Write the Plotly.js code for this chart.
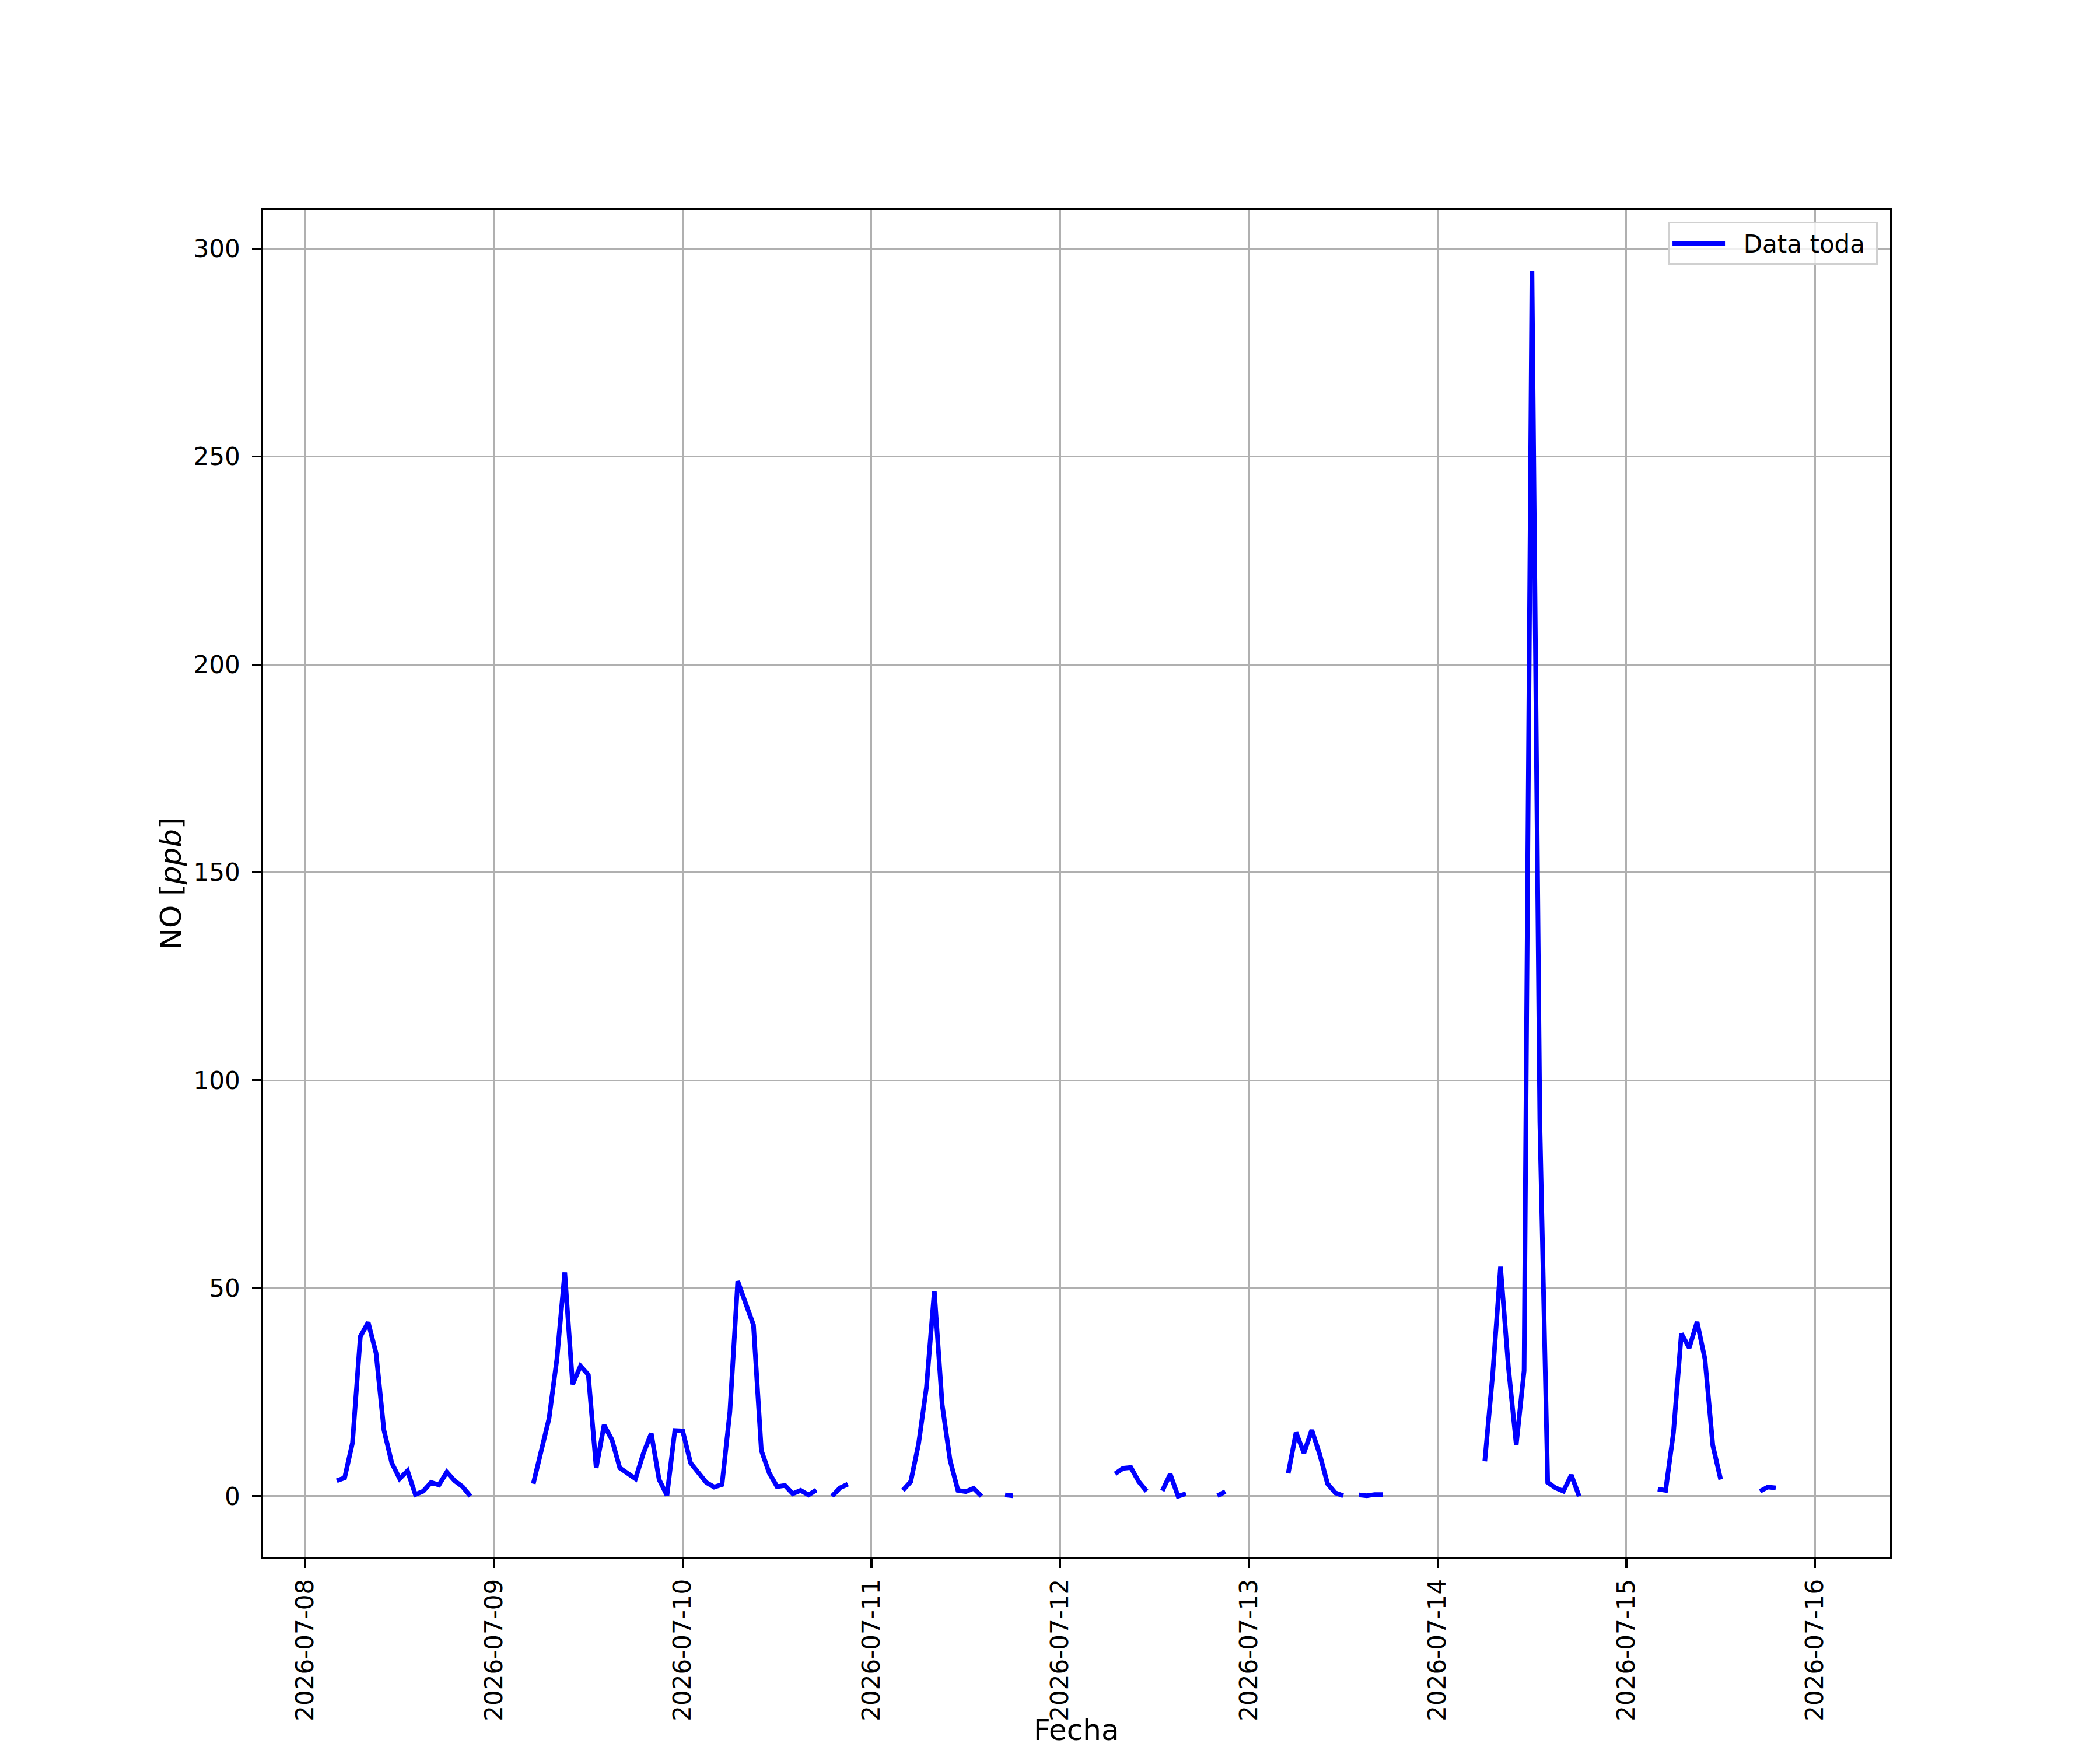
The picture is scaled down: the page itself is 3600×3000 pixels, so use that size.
<!DOCTYPE html>
<html>
<head>
<meta charset="utf-8">
<script src="https://cdn.plot.ly/plotly-3.0.1.min.js"></script>
<style>html,body{margin:0;padding:0;background:#fff;}#chart{width:3600px;height:3000px;}</style>
</head>
<body>
<div id="chart"></div>
<script>
// Hourly NO readings [ppb], first reading at 2026-07-08 04:00; null = missing hour
var firstReading = {year: 2026, month: 7, day: 8, hour: 4};
var noValues = [
  // 07-08 04:00 .. 23:00
  3.7, 4.4, 12.8, 38.4, 41.8, 34.4, 15.9, 8.0, 4.2, 6.1, 0.4, 1.2, 3.3, 2.7, 5.8, 3.7, 2.3, 0.0,
  null, null,
  // 07-09
  null, null, null, null, null, 3.0, 11.2, 18.7, 33.0, 53.8, 26.9, 31.3, 29.2, 6.8, 17.1, 13.6,
  6.8, 5.6, 4.2, 10.3, 15.1, 4.0, 0.2, 15.8,
  // 07-10
  15.7, 8.0, 5.6, 3.3, 2.2, 2.8, 20.3, 51.7, 46.4, 41.2, 11.0, 5.6, 2.3, 2.6, 0.6, 1.4,
  0.3, 1.5, null, 0.0, 2.0, 2.9, null, null,
  // 07-11
  null, null, null, null, 1.4, 3.5, 12.6, 26.2, 49.3, 22.0, 8.7, 1.4, 1.1, 1.9, 0.0, null,
  null, 0.3, 0.1, null, null, null, null, null,
  // 07-12
  null, null, null, null, null, null, null, 5.4, 6.7, 6.9, 3.5, 1.2, null, 1.3, 5.3, 0.0,
  0.6, null, null, null, 0.1, 1.1, null, null,
  // 07-13
  null, null, null, null, null, 5.5, 15.3, 10.4, 15.9, 10.1, 3.0, 0.8, 0.1, null, 0.3, 0.1,
  0.4, 0.4, null, null, null, null, null, null,
  // 07-14
  null, null, null, null, null, null, 8.4, 29.2, 55.2, 31.1, 12.4, 30.2, 294.6, 90.0, 3.3, 2.0,
  1.2, 5.1, 0.0, null, null, null, null, null,
  // 07-15
  null, null, null, null, 1.7, 1.4, 15.4, 39.1, 35.7, 41.9, 33.0, 12.2, 4.0, null, null, null,
  null, 1.2, 2.2, 2.0, null, null, null, null,
  // 07-16
  null
];
var dayTicks = ["2026-07-08","2026-07-09","2026-07-10","2026-07-11","2026-07-12","2026-07-13","2026-07-14","2026-07-15","2026-07-16"];
var yTicks = [0, 50, 100, 150, 200, 250, 300];
var seriesName = "Data toda";
var xLabel = "Fecha";
var yLabel = "NO [<i>ppb</i>]";

function pad(n){ return (n < 10 ? "0" : "") + n; }
var times = noValues.map(function(v, i){
  var d = new Date(Date.UTC(firstReading.year, firstReading.month - 1, firstReading.day, firstReading.hour + i));
  return d.getUTCFullYear() + "-" + pad(d.getUTCMonth() + 1) + "-" + pad(d.getUTCDate()) + " " + pad(d.getUTCHours()) + ":00:00";
});

var font = "DejaVu Sans, Liberation Sans, sans-serif";
var trace = {
  x: times, y: noValues, type: "scatter", mode: "lines",
  name: "\u00a0\u00a0" + seriesName + "\u00a0",
  line: {color: "#0000ff", width: 8}, connectgaps: false, showlegend: true
};
var layout = {
  width: 3600, height: 3000,
  paper_bgcolor: "#ffffff", plot_bgcolor: "#ffffff",
  margin: {l: 450, r: 360, t: 360, b: 330, autoexpand: false},
  font: {family: font, size: 42, color: "#000000"},
  showlegend: true,
  legend: {
    x: 0.9925, y: 0.9913, xanchor: "right", yanchor: "top",
    bgcolor: "rgba(255,255,255,0.8)", bordercolor: "#d0d0d0", borderwidth: 3,
    font: {family: font, size: 42, color: "#000000"},
    itemwidth: 90, tracegroupgap: 0
  },
  annotations: [{
    text: xLabel, xref: "paper", yref: "paper", x: 0.5, y: -0.128,
    xanchor: "center", yanchor: "middle", showarrow: false,
    borderpad: 0, borderwidth: 0,
    font: {family: font, size: 50, color: "#000000"}
  }],
  xaxis: {
    type: "date",
    range: ["2026-07-07 18:33:14", "2026-07-16 09:32:24"],
    tickmode: "array", tickvals: dayTicks, ticktext: dayTicks,
    tickangle: -90,
    showgrid: true, gridcolor: "#b0b0b0", gridwidth: 3,
    zeroline: false,
    showline: true, linecolor: "#000000", linewidth: 3.3, mirror: true,
    ticks: "outside", ticklen: 14.6, tickwidth: 3.3, tickcolor: "#000000",
    ticklabelstandoff: 2,
    tickfont: {family: font, size: 42, color: "#000000"},
    automargin: false
  },
  yaxis: {
    range: [-14.73, 309.3],
    tickmode: "array", tickvals: yTicks, ticktext: yTicks.map(String),
    showgrid: true, gridcolor: "#b0b0b0", gridwidth: 3,
    zeroline: false,
    showline: true, linecolor: "#000000", linewidth: 3.3, mirror: true,
    ticks: "outside", ticklen: 14.6, tickwidth: 3.3, tickcolor: "#000000",
    ticklabelstandoff: 12,
    tickfont: {family: font, size: 42, color: "#000000"},
    title: {text: yLabel, font: {family: font, size: 50, color: "#000000"}, standoff: 6},
    automargin: false
  }
};
Plotly.newPlot("chart", [trace], layout, {displayModeBar: false, staticPlot: true});
</script>
</body>
</html>
